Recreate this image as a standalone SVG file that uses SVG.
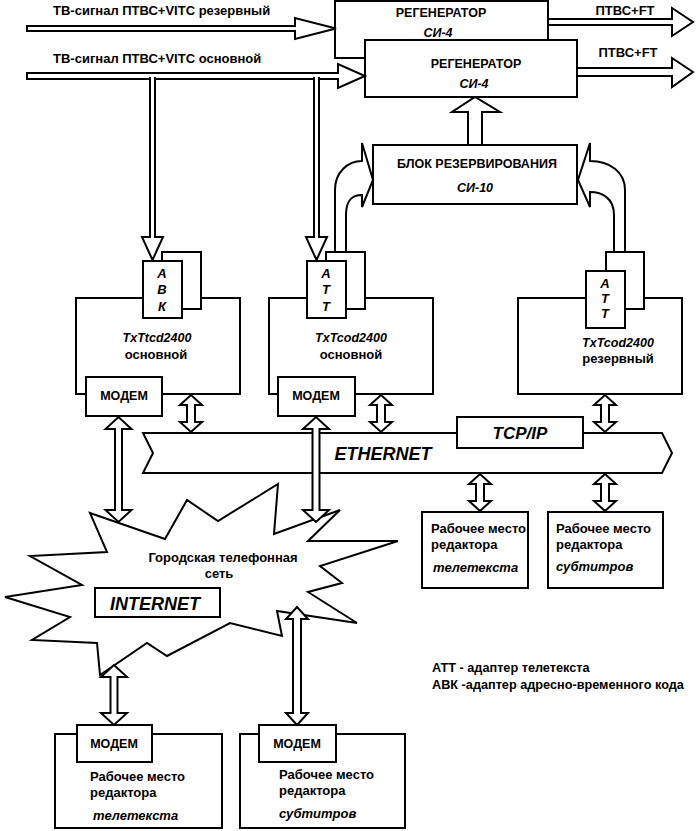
<svg xmlns="http://www.w3.org/2000/svg" width="700" height="831" viewBox="0 0 700 831">
<style>
.b{fill:#fff;stroke:#000;stroke-width:2;stroke-linejoin:miter}
.t{font-family:"Liberation Sans",Arial,sans-serif;font-weight:bold;font-size:13px;fill:#000}
.c{text-anchor:middle}
.i{font-style:italic}
.k{font-size:12.5px}
</style>
<rect width="700" height="831" fill="#fff"/>

<g id="cloud">
<polygon class="b" points="90,513 165,539 187,500 218,521 278,484 274,534 340,510 308,541 398,541 320,566 342,583 308,592 357,623 277,611 282,636 230,623 167,656 147,643 100,675 97,643 32,640 70,617 5,597 82,585 30,556 107,552"/>
<text class="t c" x="223" y="562">Городская телефонная</text>
<text class="t c" x="219" y="578">сеть</text>
</g>
<g id="internet">
<rect class="b" x="95" y="588" width="125" height="29"/>
<text class="t i c" x="155" y="610" style="font-size:18px">INTERNET</text>
</g>

<g id="ethernet">
<polygon class="b" points="143,433 662,433 672,453 662,473 143,473 153,453"/>
<text class="t i c" x="383" y="460" style="font-size:18px">ETHERNET</text>
</g>
<g id="tcpip">
<rect class="b" x="457" y="417" width="126" height="31"/>
<text class="t i c" x="520" y="439" style="font-size:17px">TCP/IP</text>
</g>

<g id="regen1">
<rect class="b" x="335" y="1" width="213" height="57"/>
<text class="t c k" x="441" y="17">РЕГЕНЕРАТОР</text>
<text class="t c i k" x="438" y="37">СИ-4</text>
</g>
<g id="regen2">
<rect class="b" x="365" y="40" width="212" height="57"/>
<text class="t c k" x="476" y="68">РЕГЕНЕРАТОР</text>
<text class="t c i k" x="474" y="88">СИ-4</text>
</g>

<g id="blok">
<rect class="b" x="373" y="145" width="204" height="59"/>
<text class="t c k" x="477" y="168">БЛОК РЕЗЕРВИРОВАНИЯ</text>
<text class="t c i k" x="475" y="192">СИ-10</text>
</g>

<g id="txt1">
<rect class="b" x="76" y="298" width="164" height="96"/>
<rect class="b" x="162" y="252" width="39" height="57"/>
<rect class="b" x="143" y="261" width="39" height="57"/>
<text class="t c i" x="162" y="278">А</text>
<text class="t c i" x="162" y="294">В</text>
<text class="t c i" x="162" y="311">К</text>
<text class="t c i k" x="157" y="342">TxTtcd2400</text>
<text class="t c" x="156" y="359">основной</text>
<rect class="b" x="86" y="377" width="76" height="39"/>
<text class="t c k" x="124" y="400">МОДЕМ</text>
</g>

<g id="txt2">
<rect class="b" x="269" y="298" width="164" height="96"/>
<rect class="b" x="326" y="252" width="39" height="57"/>
<rect class="b" x="307" y="261" width="39" height="57"/>
<text class="t c i" x="326" y="278">А</text>
<text class="t c i" x="326" y="294">Т</text>
<text class="t c i" x="326" y="311">Т</text>
<text class="t c i k" x="351" y="342">TxTcod2400</text>
<text class="t c" x="351" y="359">основной</text>
<rect class="b" x="278" y="377" width="77" height="39"/>
<text class="t c k" x="316" y="400">МОДЕМ</text>
</g>

<g id="txt3">
<rect class="b" x="518" y="298" width="164" height="96"/>
<rect class="b" x="606" y="252" width="38" height="57"/>
<rect class="b" x="586" y="271" width="39" height="57"/>
<text class="t c i" x="605" y="288">А</text>
<text class="t c i" x="605" y="303">Т</text>
<text class="t c i" x="605" y="318">Т</text>
<text class="t c i k" x="618" y="347">TxTcod2400</text>
<text class="t c" x="618" y="363">резервный</text>
</g>

<g id="ws1">
<rect class="b" x="422" y="512" width="106" height="76"/>
<text class="t" x="431" y="533">Рабочее место</text>
<text class="t" x="431" y="549">редактора</text>
<text class="t i" x="433" y="572">телетекста</text>
</g>
<g id="ws2">
<rect class="b" x="548" y="512" width="115" height="76"/>
<text class="t" x="556" y="533">Рабочее место</text>
<text class="t" x="556" y="549">редактора</text>
<text class="t i" x="556" y="571">субтитров</text>
</g>

<g id="legend">
<text class="t" x="432" y="672" style="font-size:12.7px">АТТ - адаптер телетекста</text>
<text class="t" x="432" y="689" style="font-size:12.7px">АВК -адаптер адресно-временного кода</text>
</g>

<g id="remote1">
<rect class="b" x="55" y="734" width="167" height="94"/>
<rect class="b" x="77" y="725" width="75" height="37"/>
<text class="t c k" x="114" y="748">МОДЕМ</text>
<text class="t" x="90" y="781">Рабочее место</text>
<text class="t" x="90" y="797">редактора</text>
<text class="t i" x="93" y="820">телетекста</text>
</g>
<g id="remote2">
<rect class="b" x="240" y="734" width="165" height="94"/>
<rect class="b" x="259" y="725" width="77" height="37"/>
<text class="t c k" x="297" y="748">МОДЕМ</text>
<text class="t" x="279" y="779">Рабочее место</text>
<text class="t" x="279" y="795">редактора</text>
<text class="t i" x="279" y="818">субтитров</text>
</g>

<g id="connectors">
<path class="b" d="M27,26 H295 V18 L336,28.5 L295,39 V31 H27 Z"/>
<path class="b" d="M27,73 H338 V64 L365,76 L338,88 V79 H27 Z"/>
<path class="b" d="M150,77 V237 H142 L152.5,260 L163,237 H155 V77"/>
<path class="b" d="M314,77 V237 H306 L316.5,260 L327,237 H319 V77"/>
<path class="b" d="M549,19 H672 V8 L693,22 L672,36 V25 H549"/>
<path class="b" d="M578,68 H672 V58 L693,72 L672,87 V76 H578"/>
<path class="b" d="M468,144 V112 H452 L475,97 L500,112 H482 V144"/>
<path class="b" d="M335,251 V190 C335,172 348,161 362,161 V143 L373,180 L362,207 V195 C352,195 346,200 346,215 V251"/>
<path class="b" d="M625,251 V190 C625,172 610,161 590,161 V143 L578,180 L590,207 V192 C602,192 614,198 614,215 V251"/>
<path class="b" d="M187,405 H180 L191,395 L202,405 H195 V422 H202 L191,432 L180,422 H187 Z"/>
<path class="b" d="M377,405 H370 L381,395 L392,405 H385 V422 H392 L381,432 L370,422 H377 Z"/>
<path class="b" d="M601,405 H594 L605,395 L616,405 H609 V422 H616 L605,432 L594,422 H601 Z"/>
<path class="b" d="M476,484 H469 L480,474 L491,484 H484 V501 H491 L480,511 L469,501 H476 Z"/>
<path class="b" d="M601,484 H594 L605,474 L616,484 H609 V501 H616 L605,511 L594,501 H601 Z"/>
<path class="b" d="M115,429 H105.5 L118.5,417 L131.5,429 H122 V510 H131.5 L118.5,522 L105.5,510 H115 Z"/>
<path class="b" d="M312.5,429 H303 L316,417 L329,429 H319.5 V510 H329 L316,522 L303,510 H312.5 Z"/>
<path class="b" d="M110.5,677 H101 L114,665 L127,677 H117.5 V713 H127 L114,725 L101,713 H110.5 Z"/>
<path class="b" d="M293,619 H286 L297,607 L308,619 H301 V713 H308 L297,725 L286,713 H293 Z"/>
</g>

<text class="t c" x="625" y="15">ПТВС+FT</text>
<text class="t c" x="628" y="57">ПТВС+FT</text>
<text class="t" x="53" y="15">ТВ-сигнал ПТВС+VITC резервный</text>
<text class="t" x="53" y="63">ТВ-сигнал ПТВС+VITC основной</text>
</svg>
